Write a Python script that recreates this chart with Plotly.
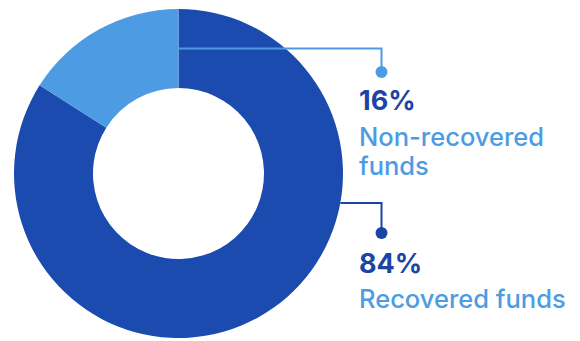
import math
import plotly.graph_objects as go

# Data
labels = ["Recovered funds", "Non-recovered funds"]
values = [84, 16]
pct_text = ["84%", "16%"]
slice_colors = ["#1c4bb0", "#4d9ce3"]
label_colors = ["#1a44a6", "#4d9ce3"]

W, H = 580, 341
CX, CY = 178.5, 173.5      # donut centre, px from top-left
R_OUT, R_IN = 164.5, 85.5  # ring radii, px


def px(x):
    return x / W


def py(y):
    return 1 - y / H


fig = go.Figure(
    go.Pie(
        labels=labels,
        values=values,
        hole=R_IN / R_OUT,
        sort=False,
        direction="clockwise",
        rotation=0,
        marker=dict(colors=slice_colors, line=dict(width=0)),
        textinfo="none",
        hoverinfo="label+percent",
        showlegend=False,
        domain=dict(
            x=[px(CX - R_OUT), px(CX + R_OUT)],
            y=[py(CY + R_OUT), py(CY - R_OUT)],
        ),
    )
)

# Callout geometry, derived from the slice boundaries
r_mid = (R_OUT + R_IN) / 2
LINE_X = 381.5  # vertical drop of both leaders
TEXT_X = 357

# Non-recovered: leader starts at the slice boundary at 12 o'clock, mid-ring
y_nr = CY - r_mid
x_nr = CX
# Recovered: leader starts on the outer edge, a little below centre
y_r = CY + 29.5
x_r = CX + math.sqrt(R_OUT ** 2 - (y_r - CY) ** 2)

callouts = [
    # (start x, start y, dot y, colour)
    (x_nr, y_nr, 72, slice_colors[1]),
    (x_r, y_r, 233, label_colors[0]),
]
shapes = []
for x0, y0, ydot, col in callouts:
    shapes.append(dict(type="path", xref="paper", yref="paper",
                       path=f"M {px(x0)},{py(y0)} L {px(LINE_X)},{py(y0)} L {px(LINE_X)},{py(ydot)}",
                       line=dict(color=col, width=2)))
    rdot = 6
    shapes.append(dict(type="circle", xref="paper", yref="paper",
                       x0=px(LINE_X - rdot), x1=px(LINE_X + rdot),
                       y0=py(ydot + rdot), y1=py(ydot - rdot),
                       fillcolor=col, line=dict(width=0)))

FONT = "Inter, Roboto, sans-serif"
annotations = []


def add_text(text, y, color, size, weight):
    annotations.append(dict(
        text=text,
        x=px(TEXT_X), y=py(y), xref="paper", yref="paper",
        xanchor="left", yanchor="middle", showarrow=False,
        font=dict(family=FONT, size=size, color=color, weight=weight),
    ))


add_text(pct_text[1], 101, label_colors[0], 27, 700)
add_text("Non-recovered", 136, label_colors[1], 25.5, 500)
add_text("funds", 165, label_colors[1], 25.5, 500)
add_text(pct_text[0], 263, label_colors[0], 27, 700)
add_text(labels[0], 298, label_colors[1], 25.5, 500)

fig.update_layout(
    width=W, height=H,
    margin=dict(l=0, r=0, t=0, b=0),
    paper_bgcolor="white", plot_bgcolor="white",
    shapes=shapes, annotations=annotations,
)

fig.write_html("out.html")
